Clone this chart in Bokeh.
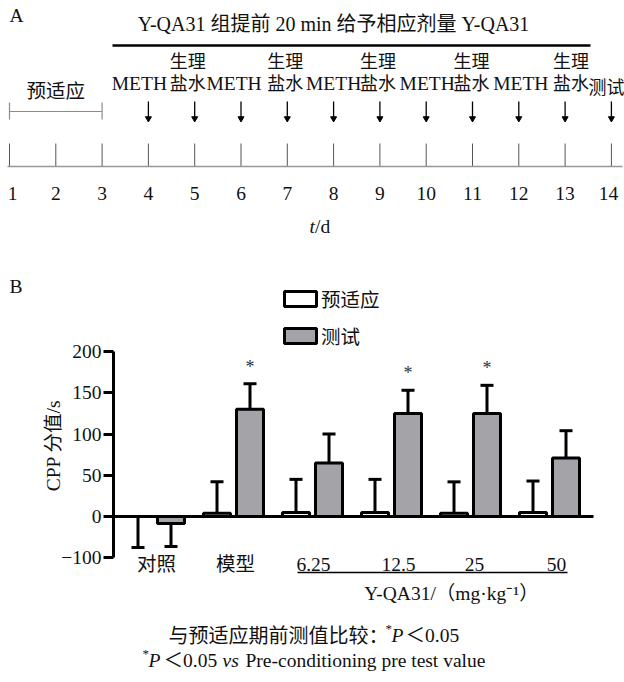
import math
from bokeh.plotting import figure
from bokeh.models import (Range1d, ColumnDataSource, FixedTicker, Whisker, TeeHead,
                          Legend, LegendItem)
from bokeh.core.properties import value
from bokeh.embed import file_html
from bokeh.resources import INLINE

# ---------------- data ----------------
# Panel A: schedule
days = list(range(1, 15))
day_labels = [str(d) for d in days]
meth_days = [4, 6, 8, 10, 12]
saline_days = [5, 7, 9, 11, 13]
test_day = [14]
event_days = meth_days + saline_days + test_day
title_A = "Y-QA31 组提前 20 min 给予相应剂量 Y-QA31"
preadapt_label = "预适应"

# Panel B: CPP scores (s)
categories = ["对照", "模型", "6.25", "12.5", "25", "50"]
pre_mean = [0, 4, 5, 5, 4, 5]
pre_err = [-75, 38, 40, 40, 38, 38]        # signed: direction of the error bar
test_mean = [-17, 130, 65, 125, 125, 71]
test_err = [-56, 31, 35, 28, 34, 33]
significant = [False, True, False, True, True, False]
y_ticks = [-100, 0, 50, 100, 150, 200]

SERIF = "Liberation Serif, Noto Sans CJK SC"
F = value(SERIF)
FS = "19.5px"
INK = "#111111"
W, H = 624, 682

# ---------------- scales ----------------
# bar chart: group index on x, CPP value on y
GW = 79.0                     # px per group
X0 = 154.0                    # page x of first group centre
UPP = 200 / 165               # CPP units per px
Y0 = 516.0                    # page y of CPP = 0
xb0 = -X0 / GW
xb1 = xb0 + W / GW
yb1 = Y0 * UPP
yb0 = (Y0 - H) * UPP
def bx(px):
    return xb0 + px / GW
def by(py):
    return (Y0 - py) * UPP
def disp(v):
    # broken axis: the negative part is drawn at half scale (0 to -100 spans one 50-step)
    return v if v >= 0 else v / 2.0

# timeline: day on x
PXD = 46.3
xa0 = 1 - 9 / PXD
xa1 = xa0 + W / PXD

p = figure(width=W, height=H, x_range=Range1d(xb0, xb1), y_range=Range1d(yb0, yb1),
           output_backend="svg", toolbar_location=None, x_axis_location=None,
           y_axis_location="left", min_border=0, outline_line_color=None)
p.extra_x_ranges = {"day": Range1d(xa0, xa1), "px": Range1d(0, W)}
p.extra_y_ranges = {"page": Range1d(H, 0)}
p.xgrid.visible = False
p.ygrid.visible = False

# ---------------- panel A ----------------
def ta(x, y, txt, size=FS, align="center", style="normal", xoff=0, xr="day"):
    p.text(x=x, y=y, text=txt, x_offset=xoff, text_font=F, text_font_size=size,
           text_font_style=style, text_align=align, text_baseline="middle",
           text_color=INK, x_range_name=xr, y_range_name="page")

ta([9], [15], ["A"], align="left", xr="px")
ta([333], [23], [title_A], size="20px", xr="px")
p.line(x=[112, 590], y=[45, 45], line_color="black", line_width=2.5,
       x_range_name="px", y_range_name="page")

ta(meth_days, [83] * 5, ["METH"] * 5, xoff=[-9, -7, 0, 1, 2])
sal_off = [-7, -2, -2, -1, 6]
ta(saline_days, [61] * 5, ["生理"] * 5, size="18px", xoff=sal_off)
ta(saline_days, [83] * 5, ["盐水"] * 5, size="18px", xoff=sal_off)
ta(test_day, [87], ["测试"], size="18px", xoff=[-5])

ne = len(event_days)
p.segment(x0=event_days, y0=[101] * ne, x1=event_days, y1=[117] * ne,
          line_color="black", line_width=1.3, x_range_name="day", y_range_name="page")
p.scatter(x=event_days, y=[118] * ne, marker="inverted_triangle", size=6,
          fill_color="black", line_color="black", x_range_name="day", y_range_name="page")

p.segment(x0=[1], y0=[111], x1=[3], y1=[111], line_color="#8c8c8c", line_width=1.2,
          x_range_name="day", y_range_name="page")
p.segment(x0=[1, 3], y0=[102, 102], x1=[1, 3], y1=[119, 119], line_color="#8c8c8c",
          line_width=1.2, x_range_name="day", y_range_name="page")
ta([2], [91], [preadapt_label])

p.segment(x0=days, y0=[143] * 14, x1=days, y1=[166] * 14, line_color="#555555",
          line_width=1, x_range_name="day", y_range_name="page")
p.line(x=[7, 622], y=[166, 166], line_color="#999999", line_width=1.5,
       x_range_name="px", y_range_name="page")
ta(days, [193] * 14, day_labels, xoff=[3] + [0] * 12 + [-3])
ta([309], [226], ["t"], align="left", style="italic", xr="px")
ta([314.5], [226], ["/d"], align="left", xr="px")

# ---------------- panel B ----------------
ta([9], [286], ["B"], align="left", xr="px")

ya = p.yaxis[0]
ya.fixed_location = bx(113)
ya.ticker = FixedTicker(ticks=[disp(t) for t in y_ticks])
ya.major_label_overrides = {disp(t): (str(t) if t >= 0 else "\u2212" + str(-t)) for t in y_ticks}
ya.bounds = (disp(min(y_ticks)), disp(max(y_ticks)))
ya.axis_line_width = 3
ya.axis_line_color = "black"
ya.major_tick_line_width = 3
ya.major_tick_line_color = "black"
ya.major_tick_out = 10
ya.major_tick_in = 0
ya.minor_tick_line_color = None
ya.major_label_text_font = SERIF
ya.major_label_text_font_size = FS
ya.major_label_text_color = INK
ya.major_label_standoff = 2

p.text(x=[53], y=[445], text=["CPP 分值/s"], angle=math.pi / 2, text_font=F,
       text_font_size=FS, text_align="center", text_baseline="middle", text_color=INK,
       x_range_name="px", y_range_name="page")

off = 16.5 / GW
bw = 27 / GW
n = len(categories)
xi = list(range(n))
x_pre = [i - off for i in xi]
x_test = [i + off for i in xi]

src_pre = ColumnDataSource(dict(x=x_pre, top=[disp(v) for v in pre_mean],
                                lo=[disp(v) for v in pre_mean],
                                hi=[disp(m + e) for m, e in zip(pre_mean, pre_err)]))
src_test = ColumnDataSource(dict(x=x_test, top=[disp(v) for v in test_mean],
                                 lo=[disp(v) for v in test_mean],
                                 hi=[disp(m + e) for m, e in zip(test_mean, test_err)]))

r_pre = p.vbar(x="x", top="top", bottom=0, width=bw, source=src_pre, fill_color="white",
               line_color="black", line_width=3)
r_test = p.vbar(x="x", top="top", bottom=0, width=bw, source=src_test,
                fill_color="#a3a3a8", line_color="black", line_width=3)

for s in (src_pre, src_test):
    p.add_layout(Whisker(base="x", lower="lo", upper="hi", source=s, dimension="height",
                         lower_head=None,
                         upper_head=TeeHead(size=13, line_width=3, line_color="black"),
                         line_width=3, line_color="black"))

# zero line
p.segment(x0=[bx(113)], y0=[0], x1=[bx(593)], y1=[0], line_color="black", line_width=3)

# significance stars
sx = [x_test[i] for i in xi if significant[i]]
sy = [disp(test_mean[i] + test_err[i]) for i in xi if significant[i]]
p.text(x=sx, y=sy, text=["*"] * len(sx), y_offset=-17, text_font=F, text_font_size="18px",
       text_color="#333333", text_align="center", text_baseline="middle")

# category labels and dose bracket
p.text(x=xi, y=[by(564)] * n, text=categories, x_offset=[2, 2, 1, 7, 4, 7], text_font=F,
       text_font_size=FS, text_align="center", text_baseline="middle", text_color=INK)
p.segment(x0=[bx(297)], y0=[by(572)], x1=[bx(567)], y1=[by(572)], line_color="black",
          line_width=1.5)

legend = Legend(items=[LegendItem(label="预适应", renderers=[r_pre]),
                       LegendItem(label="测试", renderers=[r_test])],
                location=(280, 332), orientation="vertical", padding=0, margin=0,
                spacing=8, glyph_width=40, glyph_height=19, label_standoff=1,
                label_text_font=SERIF, label_text_font_size=FS, label_text_color=INK,
                border_line_color=None, background_fill_alpha=0)
p.add_layout(legend)

# ---------------- unit label and footnotes ----------------
def tc(px, py, txt, style="normal", size=FS, dy=0, align="left"):
    p.text(x=[px], y=[py], text=[txt], y_offset=dy, text_font=F, text_font_size=size,
           text_font_style=style, text_align=align, text_baseline="middle",
           text_color=INK, x_range_name="px", y_range_name="page")

tc(451, 593, "Y-QA31/（mg·kg⁻¹）", align="center")
tc(168, 635, "与预适应期前测值比较：", size="20px")
tc(385, 635, "*", size="13px", dy=-7)
tc(391, 635, "P", style="italic")
tc(405, 635, "＜0.05")
tc(142, 660, "*", size="13px", dy=-7)
tc(148, 660, "P", style="italic")
tc(163, 660, "＜0.05")
tc(222, 660, "vs", style="italic")
tc(245, 660, "Pre-conditioning pre test value")

open("out.html", "w").write(file_html(p, INLINE))
